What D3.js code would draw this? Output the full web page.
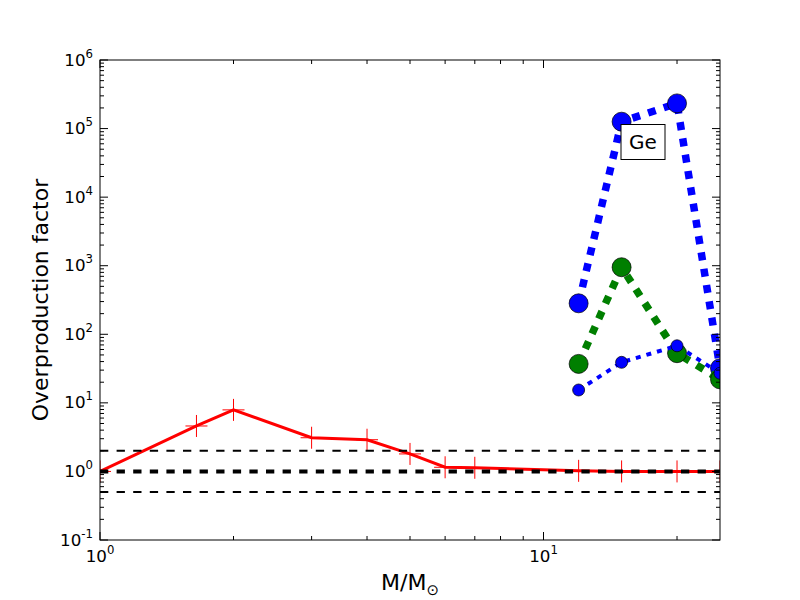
<!DOCTYPE html>
<html>
<head>
<meta charset="utf-8">
<script src="https://cdn.jsdelivr.net/npm/d3@7"></script>
<style>
body { margin: 0; background: #fff; }
svg { font-family: "DejaVu Sans", sans-serif; }
</style>
</head>
<body>
<svg id="chart" width="800" height="600"></svg>
<script>
// low mass stars (red line with + markers)
var lowMass = [1, 1.65, 2, 3, 4, 5, 6, 7, 12, 15, 20, 25];
var lowVals = [1.0, 4.6, 7.9, 3.1, 2.9, 1.8, 1.15, 1.13, 1.02, 1.0, 1.0, 1.0];

// massive stars
var highMass = [12, 15, 20, 25];
var blueBig = [283, 126000, 233000, 32];
var greenBig = [37, 950, 53, 22];
var blueSmall = [15.4, 39, 68, 27];

// horizontal reference lines
var refLines = [[2, 2], [1, 4], [0.5, 2]]; // value, width

var xTicks = [1, 10];
var yTicks = [0.1, 1, 10, 100, 1e3, 1e4, 1e5, 1e6];

var svg = d3.select("#chart");
var mLeft = 100, mRight = 720, mTop = 60, mBottom = 540;

var x = d3.scaleLog().domain([1, 25]).range([mLeft, mRight]);
var y = d3.scaleLog().domain([0.1, 1e6]).range([mBottom, mTop]);

svg.append("defs").append("clipPath").attr("id", "clip")
	.append("rect")
	.attr("x", mLeft).attr("y", mTop)
	.attr("width", mRight - mLeft).attr("height", mBottom - mTop);

var plot = svg.append("g").attr("clip-path", "url(#clip)");

var line = d3.line()
	.x(function(d) { return x(d[0]); })
	.y(function(d) { return y(d[1]); });

// red line
var lowData = d3.zip(lowMass, lowVals);
plot.append("path")
	.datum(lowData)
	.attr("d", line)
	.attr("fill", "none")
	.attr("stroke", "#ff0000")
	.attr("stroke-width", 3);
plot.selectAll(".plus")
	.data(lowData).enter()
	.append("path")
	.attr("class", "plus")
	.attr("d", function(d) {
		var cx = x(d[0]), cy = y(d[1]), s = 11;
		return "M" + (cx - s) + "," + cy + "H" + (cx + s) + "M" + cx + "," + (cy - s) + "V" + (cy + s);
	})
	.attr("stroke", "#ff0000")
	.attr("stroke-width", 1);

// dashed black reference lines
refLines.forEach(function(r) {
	plot.append("line")
		.attr("x1", mLeft).attr("x2", mRight)
		.attr("y1", y(r[0])).attr("y2", y(r[0]))
		.attr("stroke", "#000")
		.attr("stroke-width", r[1])
		.attr("stroke-dasharray", "8.3,8.3");
});

function addSeries(vals, color, width, dash, r) {
	var data = d3.zip(highMass, vals);
	plot.append("path")
		.datum(data)
		.attr("d", line)
		.attr("fill", "none")
		.attr("stroke", color)
		.attr("stroke-width", width)
		.attr("stroke-dasharray", dash);
	plot.selectAll(null)
		.data(data).enter()
		.append("circle")
		.attr("cx", function(d) { return x(d[0]); })
		.attr("cy", function(d) { return y(d[1]); })
		.attr("r", r)
		.attr("fill", color)
		.attr("stroke", "#000")
		.attr("stroke-width", 0.7);
}

addSeries(blueBig, "#0000ff", 7.5, "8,8.5", 9.5);
addSeries(greenBig, "#007f00", 7.5, "8,8.5", 9.5);
addSeries(blueSmall, "#0000ff", 4, "5,6", 6);

// Ge label
var ge = svg.append("g").attr("transform", "translate(643,142)");
ge.append("rect")
	.attr("x", -22).attr("y", -17.5)
	.attr("width", 44).attr("height", 35)
	.attr("fill", "#fff")
	.attr("stroke", "#000")
	.attr("stroke-width", 1);
ge.append("text")
	.attr("text-anchor", "middle")
	.attr("y", 7)
	.attr("font-size", 20)
	.text("Ge");

// frame
svg.append("rect")
	.attr("x", mLeft).attr("y", mTop)
	.attr("width", mRight - mLeft).attr("height", mBottom - mTop)
	.attr("fill", "none")
	.attr("stroke", "#000")
	.attr("stroke-width", 1);

// ticks on all four sides, pointing inward
var xMinor = [2, 3, 4, 5, 6, 7, 8, 9, 20];
var yMinor = [];
for (var p = -1; p < 6; p++) {
	for (var k = 2; k <= 9; k++) yMinor.push(k * Math.pow(10, p));
}

var ticks = svg.append("g").attr("stroke", "#000").attr("stroke-width", 1);
function xTick(v, len) {
	ticks.append("line").attr("x1", x(v)).attr("x2", x(v)).attr("y1", mBottom).attr("y2", mBottom - len);
	ticks.append("line").attr("x1", x(v)).attr("x2", x(v)).attr("y1", mTop).attr("y2", mTop + len);
}
function yTick(v, len) {
	ticks.append("line").attr("y1", y(v)).attr("y2", y(v)).attr("x1", mLeft).attr("x2", mLeft + len);
	ticks.append("line").attr("y1", y(v)).attr("y2", y(v)).attr("x1", mRight).attr("x2", mRight - len);
}
xTicks.forEach(function(v) { xTick(v, 8); });
xMinor.forEach(function(v) { xTick(v, 4); });
yTicks.forEach(function(v) { yTick(v, 8); });
yMinor.forEach(function(v) { yTick(v, 4); });

// tick labels
function powLabel(g, v) {
	var e = Math.round(Math.log10(v));
	g.append("tspan").text("10");
	g.append("tspan").attr("dy", -8).attr("font-size", 11.7).text(e);
}
xTicks.forEach(function(v) {
	var t = svg.append("text")
		.attr("x", x(v)).attr("y", 562)
		.attr("text-anchor", "middle")
		.attr("font-size", 16.7);
	powLabel(t, v);
});
yTicks.forEach(function(v) {
	var t = svg.append("text")
		.attr("x", 93).attr("y", y(v) + 5.5)
		.attr("text-anchor", "end")
		.attr("font-size", 16.7);
	powLabel(t, v);
});

// axis titles
var xl = svg.append("text")
	.attr("x", 410).attr("y", 590)
	.attr("text-anchor", "middle")
	.attr("font-size", 22);
xl.append("tspan").text("M/M");
xl.append("tspan").attr("dy", 5).attr("font-size", 15).text("\u2299");

svg.append("text")
	.attr("transform", "translate(48,300) rotate(-90)")
	.attr("text-anchor", "middle")
	.attr("font-size", 22)
	.text("Overproduction factor");
</script>
</body>
</html>
